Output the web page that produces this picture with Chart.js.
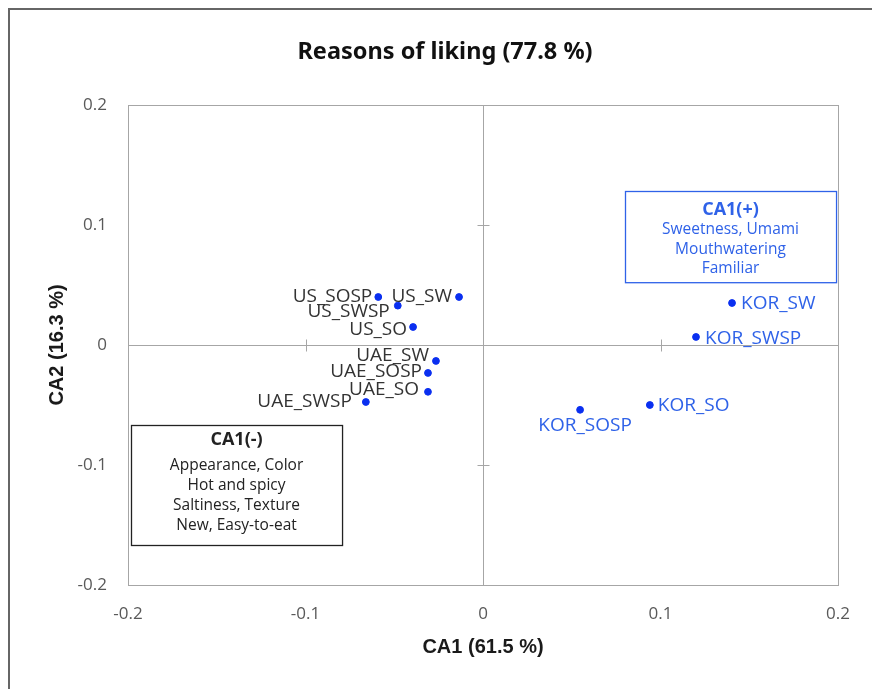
<!DOCTYPE html>
<html>
<head>
<meta charset="utf-8">
<script src="https://cdn.jsdelivr.net/npm/chart.js@4/dist/chart.umd.min.js"></script>
<style>
  html, body { margin: 0; padding: 0; background: #fff; }
  #wrap { width: 872px; height: 689px; }
</style>
</head>
<body>
<div id="wrap"><canvas id="grafico"></canvas></div>
<script>
// datos
const productos = ['US_SOSP', 'US_SW', 'US_SWSP', 'US_SO', 'UAE_SW', 'UAE_SOSP', 'UAE_SO', 'UAE_SWSP',
                   'KOR_SW', 'KOR_SWSP', 'KOR_SO', 'KOR_SOSP'];
const ca1 = [-0.059, -0.0135, -0.048, -0.0394, -0.0265, -0.031, -0.031, -0.066,
             0.1403, 0.12, 0.094, 0.0547];
const ca2 = [0.040, 0.040, 0.0328, 0.015, -0.0133, -0.0233, -0.039, -0.0475,
             0.035, 0.0067, -0.05, -0.054];
const ticksEje = [-0.2, -0.1, 0, 0.1, 0.2];
const titulo = 'Reasons of liking (77.8 %)';
const tituloX = 'CA1 (61.5 %)';
const tituloY = 'CA2 (16.3 %)';
const cajaPos = ['CA1(+)', 'Sweetness, Umami', 'Mouthwatering', 'Familiar'];
const cajaNeg = ['CA1(-)', 'Appearance, Color', 'Hot and spicy', 'Saltiness, Texture', 'New, Easy-to-eat'];

// colocacion de etiquetas (estilo, no datos)
const colocar = {
  US_SOSP: { dx: -6, dy: 0, align: 'right' },
  US_SW: { dx: -7, dy: 0, align: 'right' },
  US_SWSP: { dx: -8, dy: 6, align: 'right' },
  US_SO: { dx: -6, dy: 3, align: 'right' },
  UAE_SW: { dx: -7, dy: -5, align: 'right' },
  UAE_SOSP: { dx: -6, dy: -1, align: 'right' },
  UAE_SO: { dx: -9, dy: -2, align: 'right' },
  UAE_SWSP: { dx: -14, dy: 0, align: 'right' },
  KOR_SW: { dx: 9, dy: 1, align: 'left' },
  KOR_SWSP: { dx: 9, dy: 2, align: 'left' },
  KOR_SO: { dx: 8, dy: 1, align: 'left' },
  KOR_SOSP: { dx: 5, dy: 16, align: 'center' }
};

const AZUL = '#0a2ff0';
const AZUL_TXT = '#2f62e8';
const GRIS = '#a6a6a6';

const puntos = productos.map((p, i) => ({ x: ca1[i], y: ca2[i], nombre: p }));

const dibujoExtra = {
  id: 'dibujoExtra',
  beforeDatasetsDraw(chart) {
    const { ctx, chartArea: a, scales: { x, y } } = chart;
    ctx.save();
    // marco exterior
    ctx.strokeStyle = '#666';
    ctx.lineWidth = 2;
    ctx.beginPath();
    ctx.moveTo(9, 700); ctx.lineTo(9, 9); ctx.lineTo(880, 9);
    ctx.stroke();
    // borde del area
    ctx.strokeStyle = GRIS;
    ctx.lineWidth = 1;
    ctx.strokeRect(a.left + 0.5, a.top + 0.5, a.right - a.left, a.bottom - a.top);
    // ejes en cero
    const x0 = Math.round(x.getPixelForValue(0)) + 0.5;
    const y0 = Math.round(y.getPixelForValue(0)) + 0.5;
    ctx.beginPath();
    ctx.moveTo(x0, a.top); ctx.lineTo(x0, a.bottom);
    ctx.moveTo(a.left, y0); ctx.lineTo(a.right, y0);
    [-0.1, 0.1].forEach(v => {
      const px = Math.round(x.getPixelForValue(v)) + 0.5;
      ctx.moveTo(px, y0 - 6); ctx.lineTo(px, y0 + 6);
      const py = Math.round(y.getPixelForValue(v)) + 0.5;
      ctx.moveTo(x0 - 6, py); ctx.lineTo(x0 + 6, py);
    });
    ctx.stroke();

    // cajas
    const caja = (lineas, x1, y1, x2, y2, colorBorde, colorTxt, anchoBorde, paso) => {
      const l = x.getPixelForValue(x1), r = x.getPixelForValue(x2);
      const t = y.getPixelForValue(y1), b = y.getPixelForValue(y2);
      ctx.fillStyle = '#fff';
      ctx.fillRect(l, t, r - l, b - t);
      ctx.strokeStyle = colorBorde;
      ctx.lineWidth = anchoBorde;
      ctx.strokeRect(Math.round(l) + 0.5, Math.round(t) + 0.5, r - l, b - t);
      ctx.fillStyle = colorTxt;
      ctx.textAlign = 'center';
      ctx.textBaseline = 'middle';
      const cx = (l + r) / 2;
      lineas.forEach((txt, i) => {
        ctx.font = i === 0 ? 'bold 18px "Open Sans"' : '15.5px "Open Sans"';
        ctx.fillText(txt, cx, t + paso[i]);
      });
    };
    caja(cajaPos, 0.08, 0.128, 0.1989, 0.052, AZUL_TXT, AZUL_TXT, 1.3, [18, 38, 58, 77]);
    caja(cajaNeg, -0.1983, -0.0667, -0.0794, -0.1667, '#222', '#222', 1.3, [15, 41, 61, 81, 101]);

    // titulos
    ctx.fillStyle = '#111';
    ctx.textAlign = 'center';
    ctx.textBaseline = 'middle';
    ctx.font = 'bold 23.5px "Noto Sans"';
    ctx.fillText(titulo, 445, 52);
    ctx.font = 'bold 20px "Liberation Sans"';
    ctx.fillStyle = '#1a1a1a';
    ctx.fillText(tituloX, 483, 647);
    ctx.translate(57, 345);
    ctx.rotate(-Math.PI / 2);
    ctx.fillText(tituloY, 0, 0);
    ctx.restore();
  },
  afterDatasetsDraw(chart) {
    const { ctx } = chart;
    const meta = chart.getDatasetMeta(0);
    ctx.save();
    ctx.font = '19px "Open Sans"';
    ctx.textBaseline = 'middle';
    meta.data.forEach((el, i) => {
      const nombre = productos[i];
      const c = colocar[nombre];
      ctx.fillStyle = nombre.startsWith('KOR') ? AZUL_TXT : '#333';
      ctx.textAlign = c.align;
      ctx.fillText(nombre, el.x + c.dx, el.y + c.dy);
    });
    ctx.restore();
  }
};

new Chart(document.getElementById('grafico'), {
  type: 'scatter',
  data: {
    datasets: [{
      data: puntos,
      backgroundColor: AZUL,
      borderColor: AZUL,
      pointRadius: 3.4,
      pointHoverRadius: 3.4
    }]
  },
  options: {
    responsive: true,
    maintainAspectRatio: false,
    animation: false,
    layout: { padding: { top: 105, right: 34, left: 0, bottom: 0 } },
    plugins: { legend: { display: false }, tooltip: { enabled: false }, title: { display: false } },
    scales: {
      x: {
        type: 'linear',
        min: -0.2, max: 0.2,
        afterBuildTicks: s => { s.ticks = ticksEje.map(v => ({ value: v })); },
        afterFit: s => { s.height = 104; },
        grid: { display: false, drawTicks: false },
        border: { display: false },
        ticks: {
          padding: 19,
          color: '#595959',
          font: { family: '"Open Sans"', size: 17 },
          callback: v => String(Math.round(v * 10) / 10)
        }
      },
      y: {
        type: 'linear',
        min: -0.2, max: 0.2,
        afterBuildTicks: s => { s.ticks = ticksEje.map(v => ({ value: v })); },
        afterFit: s => { s.width = 128; },
        grid: { display: false, drawTicks: false },
        border: { display: false },
        ticks: {
          padding: 21,
          color: '#595959',
          font: { family: '"Open Sans"', size: 17 },
          callback: v => String(Math.round(v * 10) / 10)
        }
      }
    }
  },
  plugins: [dibujoExtra]
});
</script>
</body>
</html>
